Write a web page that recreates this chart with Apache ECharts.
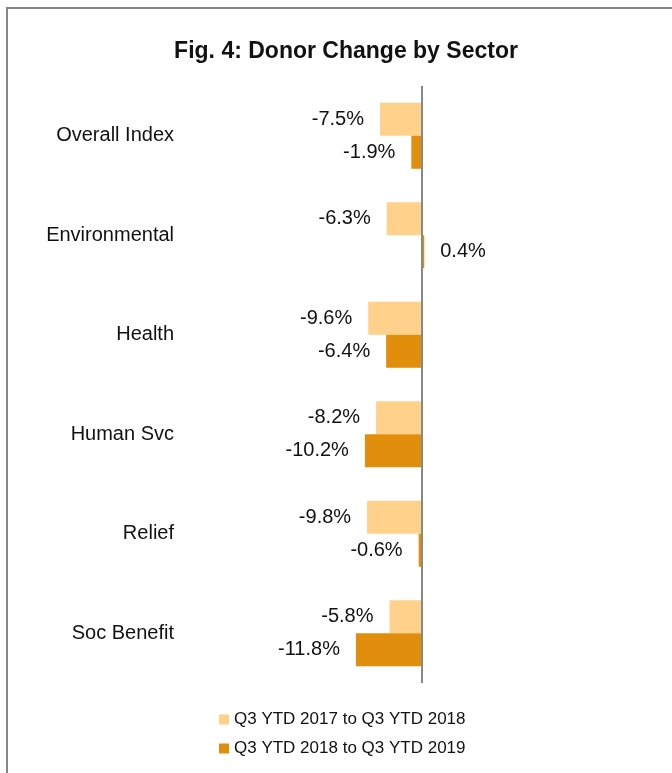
<!DOCTYPE html>
<html>
<head>
<meta charset="utf-8">
<script src="https://cdn.jsdelivr.net/npm/echarts@6/dist/echarts.min.js"></script>
<style>
  html, body { margin: 0; padding: 0; background: #fff; }
  #chart { width: 672px; height: 773px; }
</style>
</head>
<body>
<div id="chart"></div>
<script>
// Sectors, top to bottom
const sectors = ['Overall Index', 'Environmental', 'Health', 'Human Svc', 'Relief', 'Soc Benefit'];
// Percent change in donors
const change2017to2018 = [-7.5, -6.3, -9.6, -8.2, -9.8, -5.8];
const change2018to2019 = [-1.9, 0.4, -6.4, -10.2, -0.6, -11.8];
const seriesNames = ['Q3 YTD 2017 to Q3 YTD 2018', 'Q3 YTD 2018 to Q3 YTD 2019'];

const FONT = '"Liberation Sans", Arial, sans-serif';

// Negative values get their label on the left of the bar, positive on the right
function withLabels(values) {
  return values.map(v => ({
    value: v,
    label: { position: v < 0 ? 'left' : 'right' }
  }));
}

const labelStyle = {
  show: true,
  distance: 16,
  fontFamily: FONT,
  fontSize: 20,
  color: '#111',
  formatter: p => p.value.toFixed(1) + '%'
};

const chart = echarts.init(document.getElementById('chart'), null, { renderer: 'canvas' });
chart.setOption({
  animation: false,
  backgroundColor: '#fff',
  title: {
    text: 'Fig. 4: Donor Change by Sector',
    left: 341,
    top: 35,
    textAlign: 'center',
    textStyle: { fontFamily: FONT, fontWeight: 'bold', fontSize: 23, color: '#111' }
  },
  graphic: [{
    type: 'rect',
    shape: { x: 7, y: 8, width: 700, height: 800 },
    style: { fill: 'none', stroke: '#868686', lineWidth: 2 },
    silent: true
  }],
  legend: {
    orient: 'vertical',
    left: 214,
    top: 706,
    itemWidth: 10,
    itemHeight: 10,
    itemGap: 12,
    icon: 'rect',
    textStyle: { fontFamily: FONT, fontSize: 17, color: '#111', lineHeight: 17 },
    data: seriesNames
  },
  grid: { left: 198, right: 138, top: 86, bottom: 90, containLabel: false },
  xAxis: {
    type: 'value',
    min: -40,
    max: 20,
    show: false
  },
  yAxis: {
    type: 'category',
    data: sectors,
    inverse: true,
    axisLine: { show: false, onZero: false },
    axisTick: { show: false },
    axisLabel: { margin: 24, fontFamily: FONT, fontSize: 20, color: '#111' }
  },
  series: [
    {
      name: seriesNames[0],
      type: 'bar',
      barWidth: 33,
      barGap: '0%',
      itemStyle: { color: '#FFD18B' },
      label: labelStyle,
      data: withLabels(change2017to2018),
      // zero line
      markLine: {
        silent: true,
        symbol: 'none',
        label: { show: false },
        lineStyle: { color: '#888', width: 2, type: 'solid' },
        data: [{ xAxis: 0 }]
      }
    },
    {
      name: seriesNames[1],
      type: 'bar',
      barWidth: 33,
      barGap: '0%',
      itemStyle: { color: '#E08E0B' },
      label: labelStyle,
      data: withLabels(change2018to2019)
    }
  ]
});
</script>
</body>
</html>
